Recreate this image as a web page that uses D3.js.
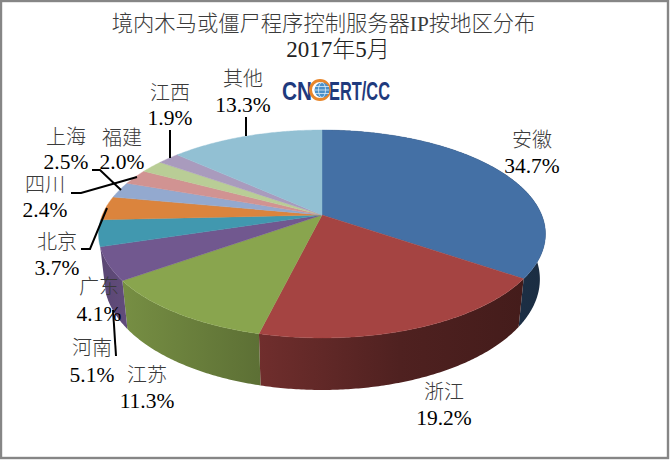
<!DOCTYPE html>
<html><head><meta charset="utf-8">
<script src="https://cdnjs.cloudflare.com/ajax/libs/d3/7.8.5/d3.min.js"></script>
<style>html,body{margin:0;padding:0;background:#fff}svg{display:block}</style></head>
<body><svg id="c" width="670" height="460"></svg>
<script>
const categories=["安徽","浙江","江苏","河南","广东","北京","上海","四川","福建","江西","其他"];
const values=[34.7,19.2,11.3,5.1,4.1,3.7,2.5,2.4,2.0,1.9,13.3];
const colors=["#4470a5","#a54442","#89a54e","#71588f","#4198af","#db843d","#93a9cf","#d19392","#b9cd96","#a99bbd","#92c0d3"];
const titleLines=["境内木马或僵尸程序控制服务器IP按地区分布","2017年5月"];
// label layout: [centre x, baseline of name, baseline of percentage]
const labelLayout=[[532,147,173],[444,399,425],[147,382,408],[92,355,382],[99,294,321],[57,249,275],[66,144,169],[45,192,217],[122,145,169],[170,100,125],[243,86,112]];
const leaders=[[[246,117],[246,136]],[[170,130],[170,158]],[[92,170],[100,170],[121,190]],[[71,193],[81,193],[137,177]],[[81,249],[90,249],[107,208]],[[113,310],[116,356]]];
const visibleWallSlices=4;

const svg=d3.select("#c");
const FONT='"Liberation Serif","Noto Sans CJK SC",serif';
svg.append("rect").attr("x",1).attr("y",1).attr("width",667).attr("height",457).attr("fill","#fff").attr("stroke","#868686").attr("stroke-width",2.4);

// perspective projection of the pie disc
const cx=322,cy=215,A=219.7,B=100.5,k=0.1827;
const project=a=>{const u=Math.sin(a),v=Math.cos(a),w=1+k*v;return [cx+A*u/w,cy-B*v/w];};
const projectBase=a=>{const [x,y]=project(a);return [cx+(x-cx)*0.975,y+44+0.065*(y-cy)];};
const samples=(a0,a1)=>{const n=Math.max(2,Math.ceil((a1-a0)/0.01));return d3.range(n+1).map(i=>a0+(a1-a0)*i/n);};
const line=d3.line();
const arcs=d3.pie().sort(null).value(d=>d)(values);
const defs=svg.append("defs");
const shade=d3.scaleLinear().domain([99,125,258,400,546]).range([0.8,0.86,0.68,0.48,0.4]);

// side walls
arcs.slice(0,visibleWallSlices).forEach((d,i)=>{
  const id="w"+i,g=defs.append("linearGradient").attr("id",id).attr("gradientUnits","userSpaceOnUse").attr("x1",99).attr("x2",546).attr("y1",0).attr("y2",0);
  const c=d3.rgb(colors[i]);
  shade.domain().forEach(x=>{const m=shade(x);g.append("stop").attr("offset",(x-99)/447).attr("stop-color",d3.rgb(c.r*m,c.g*m,c.b*m).formatHex());});
  const as=samples(d.startAngle,d.endAngle);
  const pts=as.map(project).concat(as.slice().reverse().map(projectBase));
  svg.append("path").attr("d",line(pts)+"Z").attr("fill",`url(#${id})`);
});
// top faces
arcs.forEach((d,i)=>{
  const pts=[[cx,cy]].concat(samples(d.startAngle,d.endAngle).map(project));
  svg.append("path").attr("d",line(pts)+"Z").attr("fill",colors[i]).attr("stroke",colors[i]).attr("stroke-width",0.4);
});
// leader lines
leaders.forEach(p=>svg.append("path").attr("d",line(p)).attr("fill","none").attr("stroke","#000").attr("stroke-width",2));
// title
const text=(x,y,s,size,fill)=>svg.append("text").attr("x",x).attr("y",y).attr("text-anchor","middle").attr("font-family",FONT).attr("font-size",size).attr("fill",fill||"#111").text(s);
text(323.5,31,titleLines[0],21.3,"#3a3a3a").attr("font-weight",300);
text(338,57,titleLines[1],23,"#222").attr("font-weight",300);
// labels
categories.forEach((c,i)=>{
  const [x,y1,y2]=labelLayout[i];
  text(x,y1,c,20,"#3a3a3a").attr("font-weight",300);
  text(x,y2,values[i].toFixed(1)+"%",21.5,"#000");
});
// logo
const logo=svg.append("g");
const logoText=(x,s,w)=>logo.append("text").attr("x",x).attr("y",100).attr("font-family",'"Liberation Sans Narrow","Liberation Sans",sans-serif').attr("font-weight","bold").attr("font-size",25).attr("fill","#1f3a7d").attr("textLength",w).attr("lengthAdjust","spacingAndGlyphs").text(s);
logoText(282,"CN",30);
logoText(329,"ERT/CC",61);
logo.append("circle").attr("cx",320).attr("cy",90).attr("r",9.5).attr("fill","none").attr("stroke","#e8862a").attr("stroke-width",3);
logo.append("circle").attr("cx",322).attr("cy",90).attr("r",7.5).attr("fill","#4a90c8");
[-3.5,0,3.5].forEach(d=>logo.append("path").attr("d",`M${315}, ${90+d}H329`).attr("stroke","#dcecf6").attr("stroke-width",0.8));
logo.append("ellipse").attr("cx",322).attr("cy",90).attr("rx",3.5).attr("ry",7.5).attr("fill","none").attr("stroke","#dcecf6").attr("stroke-width",0.8);
</script></body></html>
